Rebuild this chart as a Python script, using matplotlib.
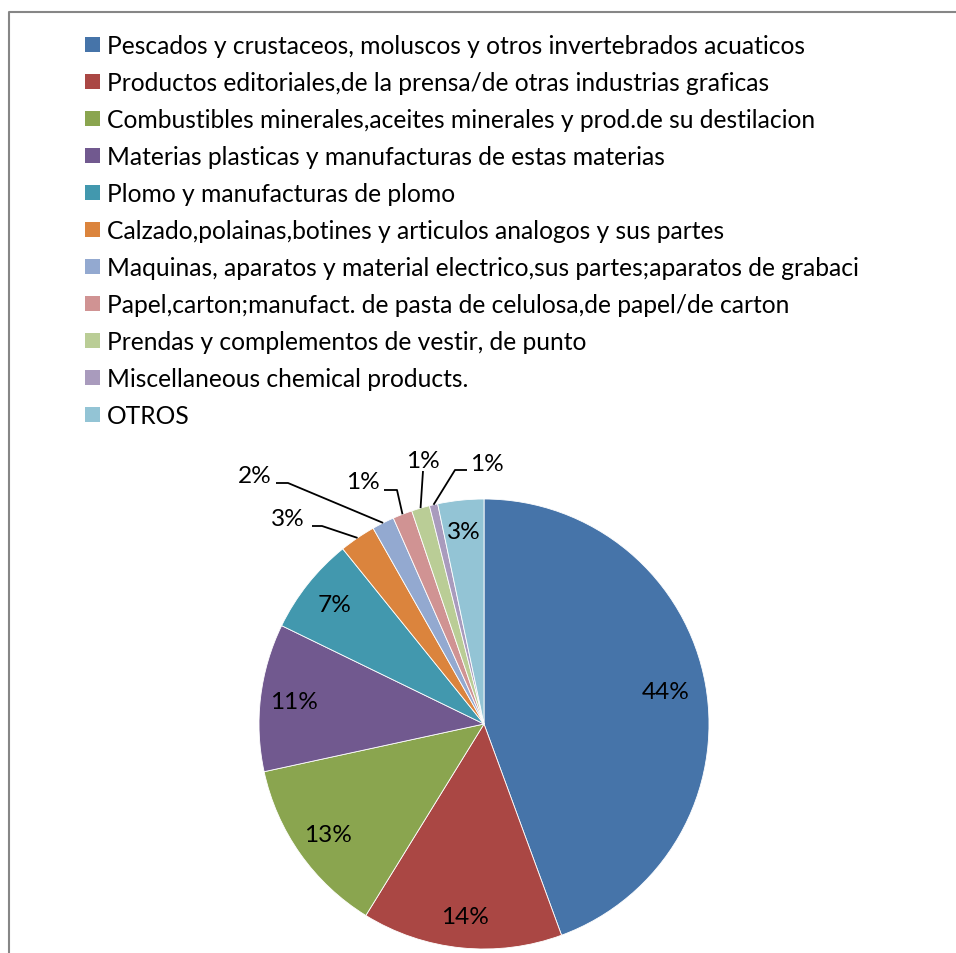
import numpy as np
import matplotlib.pyplot as plt
from matplotlib.patches import Rectangle

# data (shares in %)
categories = [
    "Pescados y crustaceos, moluscos y otros invertebrados acuaticos",
    "Productos editoriales,de la prensa/de otras industrias graficas",
    "Combustibles minerales,aceites minerales y prod.de su destilacion",
    "Materias plasticas y manufacturas de estas materias",
    "Plomo y manufacturas de plomo",
    "Calzado,polainas,botines y articulos analogos y sus partes",
    "Maquinas, aparatos y material electrico,sus partes;aparatos de grabaci",
    "Papel,carton;manufact. de pasta de celulosa,de papel/de carton",
    "Prendas y complementos de vestir, de punto",
    "Miscellaneous chemical products.",
    "OTROS",
]
shares = [44.4, 14.4, 12.8, 10.6, 7.0, 2.6, 1.6, 1.4, 1.3, 0.6, 3.3]
colors = ['#4674A9', '#AA4744', '#8AA54F', '#71598F', '#4298AE', '#DB843D',
          '#93A9D0', '#D09393', '#BACD96', '#A99BBD', '#93C4D5']

W, H = 956, 954
FS_LEG = 17.7
FS_PCT = 17.6
plt.rcParams['font.family'] = ['Lato', 'DejaVu Sans']

fig = plt.figure(figsize=(W / 100, H / 100), dpi=100)
ax = fig.add_axes([0, 0, 1, 1])

cx, cy, R = 484, H - 725, 225
wedges, _ = ax.pie(shares, colors=colors, startangle=90, counterclock=False,
                   center=(cx, cy), radius=R,
                   wedgeprops=dict(edgecolor='white', linewidth=0.6))
ax.set_xlim(0, W)
ax.set_ylim(0, H)
ax.set_aspect('equal')
ax.axis('off')

# labels inside the big slices
inside = {0: 0.82, 1: 0.86, 2: 0.85, 3: 0.85, 4: 0.85, 10: 0.86}
for i, r in inside.items():
    w = wedges[i]
    a = np.radians((w.theta1 + w.theta2) / 2)
    ax.text(cx + r * R * np.cos(a), cy + r * R * np.sin(a), f"{shares[i]:.0f}%",
            ha='center', va='center', fontsize=FS_PCT, color='black')

# labels outside with leader lines: text centre, line start, elbow (pixels from top-left)
outside = {
    5: ((288, 520), (312, 527), (322, 527)),
    6: ((255, 477), (276, 484), (288, 484)),
    7: ((363, 483), (384, 491), (397, 491)),
    8: ((423, 462), (423, 472), (423, 472)),
    9: ((487, 465), (467, 471), (455, 471)),
}
for i, (txt, start, elbow) in outside.items():
    w = wedges[i]
    a = np.radians((w.theta1 + w.theta2) / 2)
    ex, ey = cx + R * np.cos(a), cy + R * np.sin(a)
    ax.plot([start[0], elbow[0], ex], [H - start[1], H - elbow[1], ey],
            color='black', lw=1.3, solid_capstyle='butt')
    ax.text(txt[0], H - txt[1], f"{shares[i]:.0f}%", ha='center', va='center',
            fontsize=FS_PCT, color='black')

# legend block at the top
for i, (name, c) in enumerate(zip(categories, colors)):
    base = 54 + 37 * i
    ax.add_patch(Rectangle((85, H - base + 1), 15, 15, facecolor=c, edgecolor='none'))
    ax.text(107, H - base, name, ha='left', va='baseline', fontsize=FS_LEG, color='black')

# chart frame (only left and top edges are inside the picture)
ax.plot([8.5, 8.5, W + 5], [-5, H - 12.5, H - 12.5], color='#868686', lw=1.5,
        clip_on=False)

fig.savefig('out.png', dpi=100)
